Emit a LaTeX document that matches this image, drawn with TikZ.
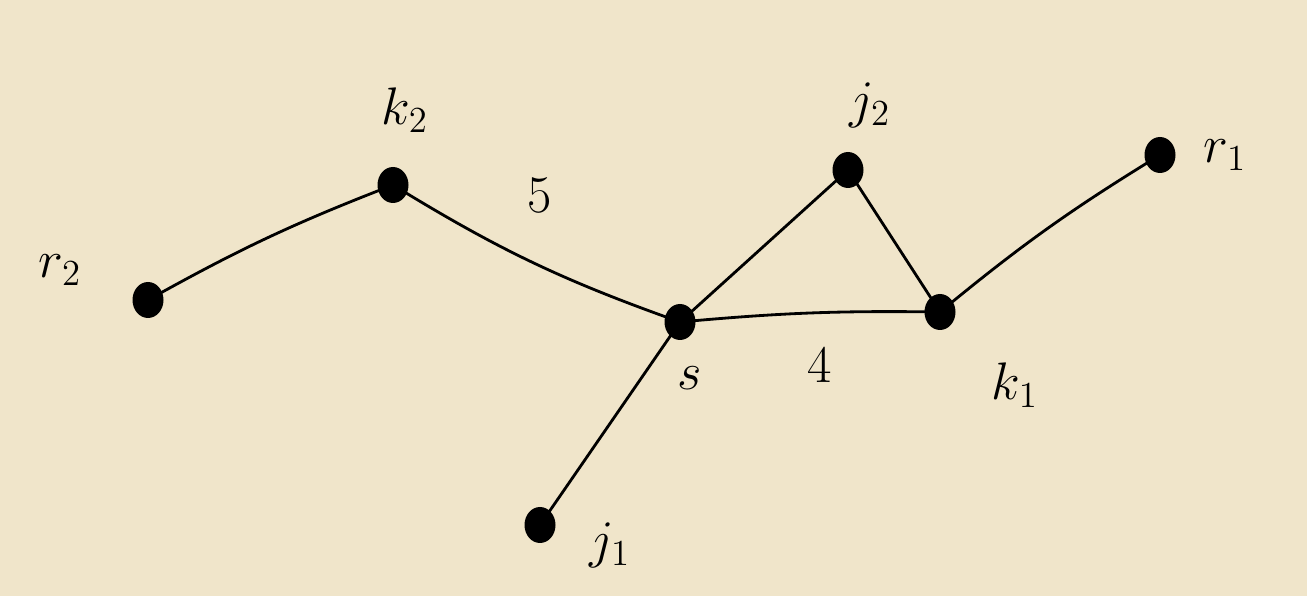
\documentclass[tikz,border=0pt]{standalone}
\usetikzlibrary{shapes.geometric}
\definecolor{paper}{RGB}{240,229,202}
\tikzset{
  vert/.style={ellipse,fill=black,minimum width=0.62cm,minimum height=0.72cm,inner sep=0pt},
  lab/.style={font=\huge,scale=1.45},
  edge/.style={line width=1.6pt,line cap=round}
}
\begin{document}
\begin{tikzpicture}
\fill[paper] (0,0) rectangle (26.14,11.92);
\useasboundingbox (0,0) rectangle (26.14,11.92);
\node[vert] (r2) at (2.96,5.92) {};
\node[vert] (k2) at (7.86,8.22) {};
\node[vert] (s) at (13.6,5.48) {};
\node[vert] (j1) at (10.8,1.42) {};
\node[vert] (j2) at (16.96,8.52) {};
\node[vert] (k1) at (18.8,5.68) {};
\node[vert] (r1) at (23.2,8.82) {};
\node[lab] (lr2) at (1.2,6.52) {$r_2$};
\node[lab] (lk2) at (8.1,9.72) {$k_2$};
\node[lab] (ls) at (13.8,4.36) {$s$};
\node[lab] (lj1) at (12.2,1.02) {$j_1$};
\node[lab] (lj2) at (17.4,9.82) {$j_2$};
\node[lab] (lk1) at (20.3,4.22) {$k_1$};
\node[lab] (lr1) at (24.5,8.82) {$r_1$};
\node[lab] (w5) at (10.8,8.02) {$5$};
\node[lab] (w4) at (16.4,4.62) {$4$};
\draw[edge] (r2.center) to[bend left=4] (k2.center);
\draw[edge] (k2.center) to[bend right=6] (s.center);
\draw[edge] (s.center) -- (j1.center);
\draw[edge] (s.center) -- (j2.center);
\draw[edge] (j2.center) -- (k1.center);
\draw[edge] (s.center) to[bend left=3] (k1.center);
\draw[edge] (k1.center) to[bend left=4] (r1.center);
\end{tikzpicture}
\end{document}
